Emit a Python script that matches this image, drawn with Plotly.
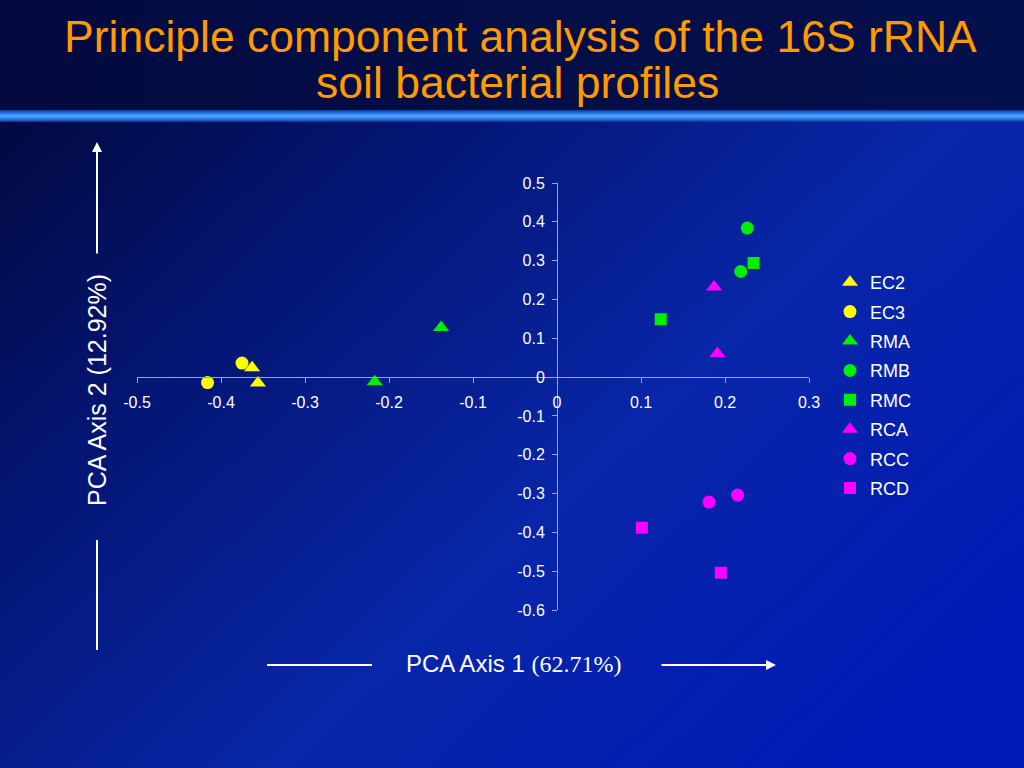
import base64
import plotly.graph_objects as go

# ---- data ----
ec2_x = [-0.363, -0.356]
ec2_y = [0.024, -0.015]
ec3_x = [-0.375, -0.416]
ec3_y = [0.036, -0.014]
rma_x = [-0.217, -0.138]
rma_y = [-0.012, 0.128]
rmb_x = [0.2265, 0.2187]
rmb_y = [0.384, 0.272]
rmc_x = [0.234, 0.1235]
rmc_y = [0.294, 0.149]
rca_x = [0.187, 0.191]
rca_y = [0.232, 0.061]
rcc_x = [0.181, 0.215]
rcc_y = [-0.322, -0.304]
rcd_x = [0.101, 0.195]
rcd_y = [-0.388, -0.504]

x_tickvals = [-0.5, -0.4, -0.3, -0.2, -0.1, 0, 0.1, 0.2, 0.3]
x_ticktext = ["-0.5", "-0.4", "-0.3", "-0.2", "-0.1", "0", "0.1", "0.2", "0.3"]
y_tickvals = [0.5, 0.4, 0.3, 0.2, 0.1, 0, -0.1, -0.2, -0.3, -0.4, -0.5, -0.6]
y_ticktext = ["0.5", "0.4", "0.3", "0.2", "0.1", "0", "-0.1", "-0.2", "-0.3", "-0.4", "-0.5", "-0.6"]

YELLOW = "#FFFF00"
GREEN = "#00EE00"
MAGENTA = "#FF00FF"

W, H = 1024, 768
ML, MR, MT, MB = 137, 215, 183, 158
PW, PH = W - ML - MR, H - MT - MB


def px(x):
    return (x - ML) / PW


def py(y):
    return (H - MB - y) / PH


series = [
    ("EC2", ec2_x, ec2_y, YELLOW, "triangle-up", 14),
    ("EC3", ec3_x, ec3_y, YELLOW, "circle", 13),
    ("RMA", rma_x, rma_y, GREEN, "triangle-up", 14),
    ("RMB", rmb_x, rmb_y, GREEN, "circle", 13),
    ("RMC", rmc_x, rmc_y, GREEN, "square", 12),
    ("RCA", rca_x, rca_y, MAGENTA, "triangle-up", 14),
    ("RCC", rcc_x, rcc_y, MAGENTA, "circle", 13),
    ("RCD", rcd_x, rcd_y, MAGENTA, "square", 12),
]

fig = go.Figure()
for name, xs, ys, col, sym, sz in series:
    fig.add_trace(go.Scatter(
        x=xs, y=ys, mode="markers", name=name, legendgroup=name,
        marker=dict(color=col, symbol=sym, size=sz, line=dict(width=0)),
    ))

# ---- background as an SVG gradient ----
svg = f'''<svg xmlns="http://www.w3.org/2000/svg" width="{W}" height="{H}" viewBox="0 0 {W} {H}" preserveAspectRatio="none">
<defs>
<linearGradient id="g" x1="0" y1="0.1" x2="1" y2="0.9">
<stop offset="0" stop-color="#02083c"/>
<stop offset="0.3" stop-color="#041676"/>
<stop offset="0.6" stop-color="#0826a8"/>
<stop offset="1" stop-color="#0018b8"/>
</linearGradient>
<linearGradient id="t" x1="0" y1="0" x2="1" y2="0">
<stop offset="0" stop-color="#020a40"/>
<stop offset="1" stop-color="#04104c"/>
</linearGradient>
<linearGradient id="b" x1="0" y1="0" x2="0" y2="1">
<stop offset="0" stop-color="#0a3aa0"/>
<stop offset="0.25" stop-color="#2270e0"/>
<stop offset="0.5" stop-color="#55aaff"/>
<stop offset="0.75" stop-color="#2a78e8"/>
<stop offset="1" stop-color="#0a3090"/>
</linearGradient>
</defs>
<rect x="0" y="0" width="{W}" height="{H}" fill="url(#g)"/>
<rect x="0" y="0" width="{W}" height="110" fill="url(#t)"/>
<rect x="0" y="110" width="{W}" height="12" fill="url(#b)"/>
</svg>'''
src = "data:image/svg+xml;base64," + base64.b64encode(svg.encode()).decode()

fig.add_layout_image(dict(
    source=src, xref="paper", yref="paper",
    x=px(0), y=py(0), sizex=W / PW, sizey=H / PH,
    xanchor="left", yanchor="top", sizing="stretch", layer="below",
))

AX = "#8fa3ea"
fig.update_layout(
    width=W, height=H,
    margin=dict(l=ML, r=MR, t=MT, b=MB),
    paper_bgcolor="#041470",
    plot_bgcolor="rgba(0,0,0,0)",
    font=dict(family="Liberation Sans, Arial, sans-serif", color="white"),
    showlegend=True,
    legend=dict(
        x=px(830), y=py(264), xanchor="left", yanchor="top",
        bgcolor="rgba(0,0,0,0)", font=dict(size=18, color="white"),
        tracegroupgap=3, traceorder="grouped",
    ),
    xaxis=dict(
        range=[-0.5, 0.3], anchor="free", position=0.6 / 1.1,
        showgrid=False, zeroline=False, showline=True, linecolor=AX, linewidth=1,
        ticks="outside", ticklen=5, tickcolor=AX, ticklabelstandoff=6,
        tickvals=x_tickvals, ticktext=x_ticktext,
        tickfont=dict(size=16, color="white"),
    ),
    yaxis=dict(
        range=[-0.6, 0.5], anchor="free", position=0.5 / 0.8,
        showgrid=False, zeroline=False, showline=True, linecolor=AX, linewidth=1,
        ticks="outside", ticklen=5, tickcolor=AX, ticklabelstandoff=4,
        tickvals=y_tickvals, ticktext=y_ticktext,
        tickfont=dict(size=16, color="white"),
    ),
)

ORANGE = "#FF9A00"
fig.add_annotation(text="Principle component analysis of the 16S rRNA",
                   xref="paper", yref="paper", x=px(520), y=py(36),
                   xanchor="center", yanchor="middle", showarrow=False,
                   font=dict(size=44.5, color=ORANGE))
fig.add_annotation(text="soil bacterial profiles",
                   xref="paper", yref="paper", x=px(517), y=py(83),
                   xanchor="center", yanchor="middle", showarrow=False,
                   font=dict(size=44.5, color=ORANGE))

# axis titles
fig.add_annotation(text="PCA Axis 2 (12.92%)", textangle=-90,
                   xref="paper", yref="paper", x=px(97), y=py(390),
                   xanchor="center", yanchor="middle", showarrow=False,
                   font=dict(size=25, color="white"))
fig.add_annotation(text="PCA Axis 1 <span style='font-family:Liberation Serif, Times New Roman, serif'>(62.71%)</span>",
                   xref="paper", yref="paper", x=px(513), y=py(663),
                   xanchor="center", yanchor="middle", showarrow=False,
                   font=dict(size=24, color="white"))

# arrows / lines
fig.add_annotation(xref="paper", yref="paper", x=px(97), y=py(142), ax=0, ay=113,
                   text="", showarrow=True, arrowhead=2, arrowsize=1, arrowwidth=2,
                   arrowcolor="white")
fig.add_annotation(xref="paper", yref="paper", x=px(776), y=py(665), ax=-116, ay=0,
                   text="", showarrow=True, arrowhead=2, arrowsize=1, arrowwidth=2,
                   arrowcolor="white")
fig.add_shape(type="line", xref="paper", yref="paper",
              x0=px(97), x1=px(97), y0=py(540), y1=py(650),
              line=dict(color="white", width=2))
fig.add_shape(type="line", xref="paper", yref="paper",
              x0=px(267), x1=px(372), y0=py(665), y1=py(665),
              line=dict(color="white", width=2))

fig.write_html("out.html", config={"displayModeBar": False},
               post_script="document.body.style.margin='0';")
